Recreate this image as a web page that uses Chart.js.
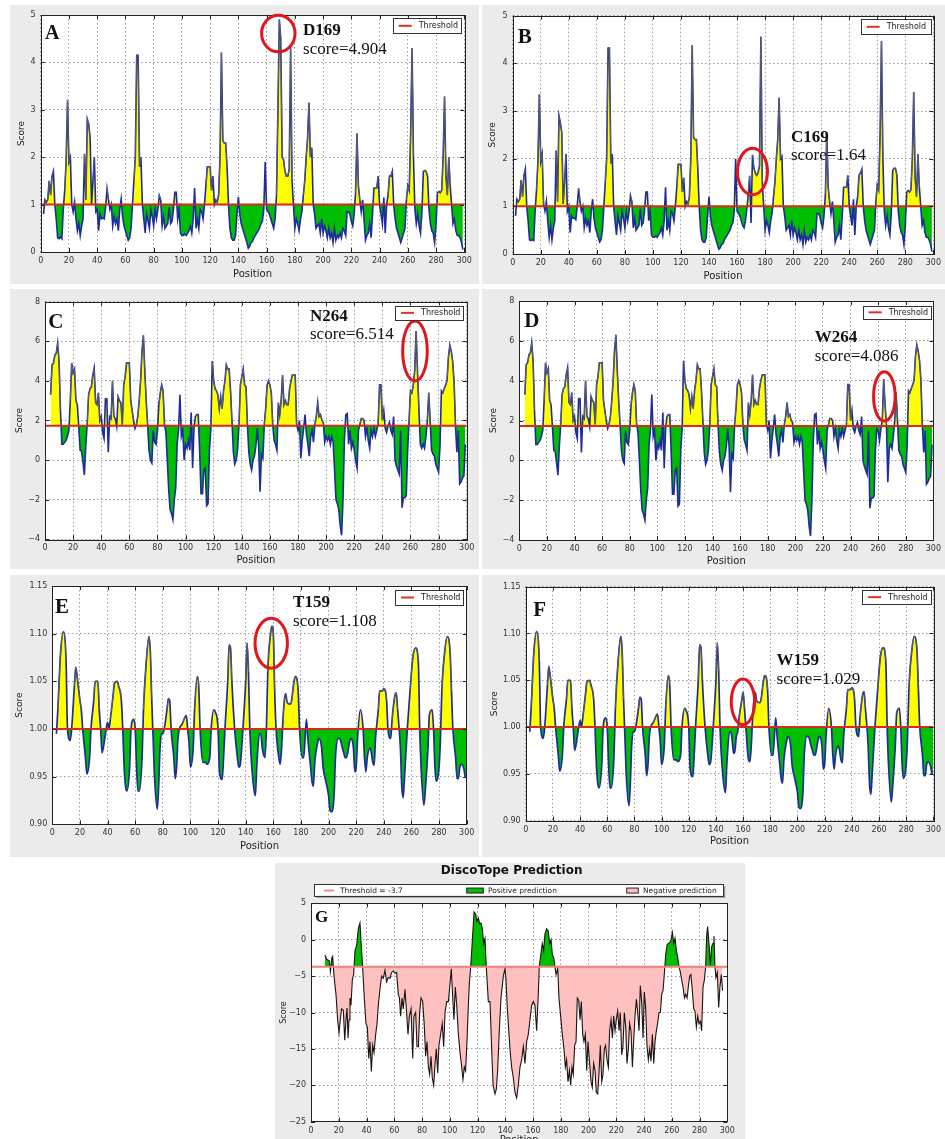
<!DOCTYPE html>
<html>
<head>
<meta charset="utf-8">
<title>Epitope score profiles</title>
<script src="https://cdn.jsdelivr.net/npm/chart.js@4.4.1/dist/chart.umd.min.js"></script>
<style>
  html, body { margin: 0; padding: 0; background: #fff; }
  body { width: 945px; height: 1139px; position: relative; overflow: hidden; font-family: "DejaVu Sans", sans-serif; }
  .panel { position: absolute; background: #ebebeb; }
  canvas { position: absolute; }
</style>
</head>
<body>
<div class="panel" style="left:10px;top:5px;width:469px;height:279px"></div>
<div class="panel" style="left:482px;top:5px;width:463px;height:279px"></div>
<div class="panel" style="left:10px;top:289px;width:469px;height:280px"></div>
<div class="panel" style="left:482px;top:289px;width:463px;height:280px"></div>
<div class="panel" style="left:10px;top:575px;width:469px;height:282px"></div>
<div class="panel" style="left:482px;top:575px;width:463px;height:282px"></div>
<div class="panel" style="left:275px;top:863px;width:470px;height:276px"></div>
<script>
// ---- axis ticks ----
const posTicks = [0, 20, 40, 60, 80, 100, 120, 140, 160, 180, 200, 220, 240, 260, 280, 300];
const scoreTicksAB = [0, 1, 2, 3, 4, 5];
const scoreTicksCD = [-4, -2, 0, 2, 4, 6, 8];
const scoreTicksEF = [0.90, 0.95, 1.00, 1.05, 1.10, 1.15];
const scoreTicksG = [-25, -20, -15, -10, -5, 0, 5];

// ---- thresholds ----
const thresholdAB = 1.0;
const thresholdCD = 1.73;
const thresholdEF = 1.0;
const thresholdG = -3.7;

// ---- per-residue scores: [position, score] ----
const seriesA = [[2,0.80],[3,1.10],[4,1.05],[5,1.10],[6,1.50],[7,1.20],[8,1.60],[9,1.70],[10,1.00],[11,0.70],[12,0.30],[13,0.28],[14,0.32],[15,0.28],[16,0.90],[17,1.30],[18,1.90],[19,3.20],[20,1.90],[21,2.00],[22,1.00],[23,0.85],[24,1.05],[25,0.70],[26,0.45],[27,0.60],[28,0.35],[29,0.55],[30,0.70],[31,2.07],[32,1.10],[33,2.80],[34,2.70],[35,2.40],[36,1.00],[37,1.50],[38,2.00],[39,0.85],[40,0.90],[41,0.45],[42,0.80],[43,0.70],[44,0.72],[45,0.70],[46,0.95],[47,1.33],[48,1.10],[49,0.90],[50,1.00],[51,0.55],[52,0.75],[53,0.60],[54,0.70],[55,0.45],[56,0.90],[57,1.12],[58,0.75],[59,0.55],[60,0.45],[61,0.35],[62,0.25],[63,0.30],[64,0.50],[65,1.00],[66,1.50],[67,2.00],[68,4.15],[69,4.15],[70,1.80],[71,2.00],[72,1.00],[73,0.70],[74,0.40],[75,0.80],[76,0.65],[77,0.50],[78,0.90],[79,0.75],[80,0.55],[81,0.90],[82,0.70],[83,0.90],[84,1.19],[85,1.10],[86,0.55],[87,0.75],[88,0.50],[89,0.55],[90,0.60],[91,0.95],[92,0.60],[93,0.65],[94,0.90],[95,1.26],[96,1.26],[97,0.70],[98,0.90],[99,0.40],[100,0.35],[101,0.35],[102,0.38],[103,0.35],[104,0.40],[105,0.45],[106,0.55],[107,0.40],[108,0.70],[109,1.35],[110,0.50],[111,0.70],[112,0.50],[113,0.90],[114,0.85],[115,0.70],[116,1.00],[117,1.40],[118,1.80],[119,1.80],[120,1.80],[121,1.30],[122,1.60],[123,1.00],[124,1.10],[125,1.05],[126,1.20],[127,2.00],[128,4.21],[129,2.35],[130,2.30],[131,2.30],[132,1.80],[133,1.00],[134,0.50],[135,0.30],[136,0.25],[137,0.25],[138,0.35],[139,0.80],[140,1.16],[141,0.80],[142,0.60],[143,0.50],[144,0.40],[145,0.30],[146,0.20],[147,0.08],[148,0.12],[149,0.20],[150,0.22],[151,0.30],[152,0.35],[153,0.40],[154,0.45],[155,0.50],[156,0.60],[157,0.65],[158,0.90],[159,1.90],[160,0.90],[161,0.85],[162,0.80],[163,0.70],[164,0.60],[165,0.50],[166,0.70],[167,1.20],[168,3.00],[169,4.904],[170,4.50],[171,2.00],[172,1.95],[173,1.70],[174,1.60],[175,1.60],[176,1.75],[177,4.30],[178,1.50],[179,1.00],[180,0.50],[181,0.70],[182,0.60],[183,0.45],[184,0.70],[185,0.85],[186,1.20],[187,1.50],[188,2.00],[189,2.40],[190,3.15],[191,2.00],[192,2.20],[193,1.00],[194,0.80],[195,0.50],[196,0.55],[197,0.60],[198,0.40],[199,0.70],[200,0.40],[201,0.55],[202,0.45],[203,0.30],[204,0.50],[205,0.30],[206,0.40],[207,0.20],[208,0.50],[209,0.25],[210,0.35],[211,0.30],[212,0.40],[213,0.30],[214,0.50],[215,0.45],[216,0.35],[217,0.85],[218,0.85],[219,0.80],[220,0.65],[221,0.55],[222,0.80],[223,1.25],[224,2.50],[225,1.40],[226,1.10],[227,0.85],[228,1.10],[229,0.70],[230,0.25],[231,0.35],[232,0.40],[233,0.60],[234,0.30],[235,0.80],[236,1.35],[237,1.35],[238,1.35],[239,1.60],[240,1.00],[241,0.80],[242,0.60],[243,1.15],[244,0.40],[245,1.00],[246,1.20],[247,1.60],[248,1.60],[249,1.70],[250,1.00],[251,0.70],[252,0.50],[253,0.40],[254,0.30],[255,0.20],[256,0.30],[257,0.40],[258,0.50],[259,1.10],[260,1.40],[261,1.30],[262,2.50],[263,4.30],[264,2.00],[265,0.90],[266,0.60],[267,0.80],[268,0.55],[269,0.40],[270,0.85],[271,1.70],[272,1.72],[273,1.70],[274,1.60],[275,0.90],[276,0.60],[277,0.45],[278,0.40],[279,0.20],[280,0.60],[281,1.25],[282,1.28],[283,1.25],[284,1.30],[285,2.00],[286,3.28],[287,1.60],[288,1.20],[289,2.00],[290,1.40],[291,1.00],[292,0.60],[293,0.70],[294,0.45],[295,0.35],[296,0.35],[297,0.30],[298,0.20],[299,0.05]];

const seriesB = [[2,0.80],[3,1.15],[4,1.10],[5,1.15],[6,1.55],[7,1.20],[8,1.65],[9,1.78],[10,1.00],[11,0.70],[12,0.30],[13,0.28],[14,0.30],[15,0.28],[16,0.90],[17,1.35],[18,1.95],[19,3.35],[20,1.95],[21,2.10],[22,1.05],[23,0.90],[24,1.10],[25,0.70],[26,0.35],[27,0.60],[28,0.30],[29,0.55],[30,0.70],[31,2.17],[32,1.10],[33,2.90],[34,2.75],[35,2.55],[36,1.05],[37,1.50],[38,2.10],[39,0.90],[40,1.00],[41,0.45],[42,0.80],[43,0.75],[44,0.75],[45,0.72],[46,1.00],[47,1.38],[48,1.10],[49,0.90],[50,1.00],[51,0.55],[52,0.75],[53,0.60],[54,0.70],[55,0.45],[56,0.90],[57,1.15],[58,0.75],[59,0.55],[60,0.45],[61,0.35],[62,0.25],[63,0.30],[64,0.50],[65,1.00],[66,1.50],[67,2.00],[68,4.32],[69,4.32],[70,1.90],[71,2.10],[72,1.00],[73,0.70],[74,0.40],[75,0.80],[76,0.65],[77,0.50],[78,0.90],[79,0.75],[80,0.55],[81,0.90],[82,0.70],[83,0.90],[84,1.22],[85,1.10],[86,0.55],[87,0.75],[88,0.50],[89,0.55],[90,0.60],[91,0.95],[92,0.60],[93,0.65],[94,0.90],[95,1.30],[96,1.30],[97,0.70],[98,0.90],[99,0.40],[100,0.35],[101,0.35],[102,0.38],[103,0.35],[104,0.40],[105,0.45],[106,0.55],[107,0.40],[108,0.70],[109,1.40],[110,0.50],[111,0.70],[112,0.50],[113,0.90],[114,0.85],[115,0.70],[116,1.00],[117,1.40],[118,1.88],[119,1.88],[120,1.88],[121,1.30],[122,1.60],[123,1.00],[124,1.10],[125,1.05],[126,1.20],[127,2.00],[128,4.38],[129,2.45],[130,2.40],[131,2.40],[132,1.80],[133,1.00],[134,0.50],[135,0.30],[136,0.25],[137,0.25],[138,0.35],[139,0.80],[140,1.20],[141,0.80],[142,0.60],[143,0.50],[144,0.40],[145,0.30],[146,0.20],[147,0.10],[148,0.13],[149,0.20],[150,0.22],[151,0.30],[152,0.35],[153,0.40],[154,0.45],[155,0.50],[156,0.60],[157,0.65],[158,0.90],[159,2.00],[160,0.90],[161,0.85],[162,0.80],[163,0.70],[164,0.60],[165,0.55],[166,0.70],[167,0.95],[168,1.25],[169,1.64],[170,0.65],[171,2.08],[172,1.80],[173,1.70],[174,1.65],[175,1.70],[176,1.85],[177,4.56],[178,1.50],[179,1.00],[180,0.50],[181,0.70],[182,0.60],[183,0.45],[184,0.70],[185,0.85],[186,1.20],[187,1.50],[188,2.00],[189,2.40],[190,3.28],[191,2.00],[192,2.05],[193,1.00],[194,0.80],[195,0.50],[196,0.55],[197,0.60],[198,0.40],[199,0.70],[200,0.40],[201,0.55],[202,0.45],[203,0.30],[204,0.50],[205,0.30],[206,0.40],[207,0.20],[208,0.50],[209,0.25],[210,0.35],[211,0.30],[212,0.40],[213,0.30],[214,0.50],[215,0.45],[216,0.35],[217,0.85],[218,0.85],[219,0.80],[220,0.65],[221,0.55],[222,0.80],[223,1.25],[224,2.55],[225,1.40],[226,1.10],[227,0.85],[228,1.10],[229,0.70],[230,0.25],[231,0.35],[232,0.40],[233,0.60],[234,0.30],[235,0.80],[236,1.40],[237,1.40],[238,1.40],[239,1.65],[240,1.00],[241,0.80],[242,0.60],[243,1.15],[244,0.40],[245,1.00],[246,1.20],[247,1.65],[248,1.70],[249,1.78],[250,1.00],[251,0.70],[252,0.50],[253,0.40],[254,0.30],[255,0.20],[256,0.30],[257,0.40],[258,0.50],[259,1.10],[260,1.45],[261,1.35],[262,2.50],[263,4.47],[264,2.00],[265,0.90],[266,0.60],[267,0.80],[268,0.55],[269,0.40],[270,0.85],[271,1.75],[272,1.80],[273,1.80],[274,1.65],[275,0.90],[276,0.60],[277,0.45],[278,0.40],[279,0.20],[280,0.60],[281,1.30],[282,1.33],[283,1.30],[284,1.35],[285,2.00],[286,3.40],[287,1.60],[288,1.20],[289,2.10],[290,1.40],[291,1.00],[292,0.60],[293,0.70],[294,0.45],[295,0.35],[296,0.35],[297,0.30],[298,0.20],[299,0.05]];

const seriesC = [[4,3.3],[5,4.8],[6,4.9],[7,5.3],[8,5.4],[9,5.9],[10,5.0],[11,2.5],[12,0.8],[13,0.8],[14,0.9],[15,1.0],[16,1.2],[17,1.5],[18,3.0],[19,4.9],[20,4.4],[21,4.6],[22,3.0],[23,2.8],[24,1.7],[25,0.5],[26,0.45],[27,-0.1],[28,-0.75],[29,0.7],[30,1.8],[31,3.3],[32,3.6],[33,3.7],[34,4.3],[35,4.65],[36,2.9],[37,2.8],[38,3.4],[39,2.0],[40,2.2],[41,1.4],[42,1.1],[43,3.1],[44,3.1],[45,0.4],[46,2.2],[47,2.1],[48,4.0],[49,2.2],[50,2.1],[51,1.7],[52,3.2],[53,3.0],[54,2.9],[55,1.8],[56,3.8],[57,4.2],[58,4.9],[59,4.9],[60,4.9],[61,3.0],[62,2.5],[63,2.0],[64,1.6],[65,1.8],[66,2.2],[67,3.0],[68,4.0],[69,5.5],[70,6.3],[71,4.5],[72,3.0],[73,1.8],[74,0.5],[75,0.0],[76,-0.15],[77,1.5],[78,0.9],[79,0.8],[80,1.5],[81,2.8],[82,3.4],[83,3.8],[84,3.5],[85,1.8],[86,1.4],[87,0.0],[88,-1.5],[89,-2.5],[90,-2.7],[91,-3.0],[92,-2.0],[93,-1.4],[94,0.8],[95,1.5],[96,3.3],[97,1.2],[98,1.5],[99,0.0],[100,0.8],[101,0.6],[102,1.0],[103,0.5],[104,2.4],[105,-0.4],[106,1.6],[107,2.2],[108,2.3],[109,2.3],[110,0.5],[111,-1.7],[112,-1.7],[113,-0.5],[114,-0.4],[115,-2.3],[116,-2.2],[117,0.5],[118,1.6],[119,5.0],[120,4.0],[121,3.6],[122,3.5],[123,3.3],[124,2.6],[125,3.2],[126,2.6],[127,3.5],[128,4.0],[129,4.8],[130,4.6],[131,4.6],[132,3.5],[133,2.0],[134,0.4],[135,-0.2],[136,0.0],[137,0.5],[138,1.8],[139,3.8],[140,4.2],[141,4.6],[142,3.8],[143,3.7],[144,1.8],[145,0.4],[146,-0.2],[147,-0.5],[148,0.0],[149,0.2],[150,0.7],[151,1.6],[152,0.7],[153,-1.6],[154,0.3],[155,0.1],[156,1.8],[157,2.6],[158,3.8],[159,4.0],[160,3.8],[161,3.4],[162,1.8],[163,1.0],[164,0.8],[165,0.5],[166,2.9],[167,2.3],[168,3.0],[169,4.3],[170,2.8],[171,3.0],[172,2.8],[173,2.8],[174,3.6],[175,4.0],[176,4.3],[177,4.3],[178,4.3],[179,1.8],[180,1.5],[181,2.0],[182,0.1],[183,1.0],[184,1.6],[185,2.3],[186,1.3],[187,0.8],[188,0.2],[189,1.2],[190,1.5],[191,0.9],[192,1.8],[193,2.2],[194,2.9],[195,2.2],[196,2.3],[197,2.0],[198,1.9],[199,0.9],[200,1.2],[201,1.0],[202,1.2],[203,0.8],[204,1.2],[205,0.9],[206,-0.5],[207,-2.0],[208,-2.2],[209,-2.5],[210,-3.3],[211,-3.8],[212,-2.0],[213,1.0],[214,2.3],[215,2.35],[216,0.8],[217,1.5],[218,0.6],[219,0.9],[220,0.5],[221,0.0],[222,-0.4],[223,1.5],[224,1.8],[225,2.1],[226,2.1],[227,2.0],[228,1.2],[229,1.6],[230,1.0],[231,0.6],[232,1.5],[233,1.2],[234,1.6],[235,1.2],[236,1.5],[237,1.8],[238,3.8],[239,3.8],[240,2.0],[241,2.5],[242,1.6],[243,1.4],[244,1.7],[245,1.9],[246,1.5],[247,1.3],[248,2.2],[249,0.0],[250,-0.3],[251,-0.5],[252,-0.7],[253,1.5],[254,-2.4],[255,-1.9],[256,-1.9],[257,-1.8],[258,0.5],[259,2.0],[260,3.5],[261,3.4],[262,3.8],[263,4.5],[264,6.514],[265,4.5],[266,2.6],[267,0.8],[268,0.6],[269,0.8],[270,0.6],[271,1.2],[272,2.0],[273,3.4],[274,2.0],[275,0.5],[276,0.3],[277,0.2],[278,-0.2],[279,-0.4],[280,-0.6],[281,0.7],[282,3.5],[283,3.4],[284,3.6],[285,3.8],[286,4.0],[287,5.2],[288,5.8],[289,5.5],[290,5.0],[291,4.0],[292,1.8],[293,0.4],[294,1.5],[295,-1.2],[296,-1.1],[297,-0.9],[298,-0.8],[299,0.8]];

const seriesD = [[4,3.3],[5,4.8],[6,4.9],[7,5.3],[8,5.4],[9,5.9],[10,5.0],[11,2.5],[12,0.8],[13,0.8],[14,0.9],[15,1.0],[16,1.2],[17,1.5],[18,3.0],[19,4.9],[20,4.4],[21,4.6],[22,3.0],[23,2.8],[24,1.7],[25,0.5],[26,0.45],[27,-0.1],[28,-0.75],[29,0.7],[30,1.8],[31,3.3],[32,3.6],[33,3.7],[34,4.3],[35,4.65],[36,2.9],[37,2.8],[38,3.4],[39,2.0],[40,2.2],[41,1.4],[42,1.1],[43,3.1],[44,3.1],[45,0.4],[46,2.2],[47,2.1],[48,4.0],[49,2.2],[50,2.1],[51,1.7],[52,3.2],[53,3.0],[54,2.9],[55,1.8],[56,3.8],[57,4.2],[58,4.9],[59,4.9],[60,4.9],[61,3.0],[62,2.5],[63,2.0],[64,1.6],[65,1.8],[66,2.2],[67,3.0],[68,4.0],[69,5.5],[70,6.3],[71,4.5],[72,3.0],[73,1.8],[74,0.5],[75,0.0],[76,-0.15],[77,1.5],[78,0.9],[79,0.8],[80,1.5],[81,2.8],[82,3.4],[83,3.8],[84,3.5],[85,1.8],[86,1.4],[87,0.0],[88,-1.5],[89,-2.5],[90,-2.7],[91,-3.0],[92,-2.0],[93,-1.4],[94,0.8],[95,1.5],[96,3.3],[97,1.2],[98,1.5],[99,0.0],[100,0.8],[101,0.6],[102,1.0],[103,0.5],[104,2.4],[105,-0.4],[106,1.6],[107,2.2],[108,2.3],[109,2.3],[110,0.5],[111,-1.7],[112,-1.7],[113,-0.5],[114,-0.4],[115,-2.3],[116,-2.2],[117,0.5],[118,1.6],[119,5.0],[120,4.0],[121,3.6],[122,3.5],[123,3.3],[124,2.6],[125,3.2],[126,2.6],[127,3.5],[128,4.0],[129,4.8],[130,4.6],[131,4.6],[132,3.5],[133,2.0],[134,0.4],[135,-0.2],[136,0.0],[137,0.5],[138,1.8],[139,3.8],[140,4.2],[141,4.6],[142,3.8],[143,3.7],[144,1.8],[145,0.4],[146,-0.2],[147,-0.5],[148,0.0],[149,0.2],[150,0.7],[151,1.6],[152,0.7],[153,-1.6],[154,0.3],[155,0.1],[156,1.8],[157,2.6],[158,3.8],[159,4.0],[160,3.8],[161,3.4],[162,1.8],[163,1.0],[164,0.8],[165,0.5],[166,2.9],[167,2.3],[168,3.0],[169,4.3],[170,2.8],[171,3.0],[172,2.8],[173,2.8],[174,3.6],[175,4.0],[176,4.3],[177,4.3],[178,4.3],[179,1.8],[180,1.5],[181,2.0],[182,0.1],[183,1.0],[184,1.6],[185,2.3],[186,1.3],[187,0.8],[188,0.2],[189,1.2],[190,1.5],[191,0.9],[192,1.8],[193,2.2],[194,2.9],[195,2.2],[196,2.3],[197,2.0],[198,1.9],[199,0.9],[200,1.2],[201,1.0],[202,1.2],[203,0.8],[204,1.2],[205,0.9],[206,-0.5],[207,-2.0],[208,-2.2],[209,-2.5],[210,-3.3],[211,-3.8],[212,-2.0],[213,1.0],[214,2.3],[215,2.35],[216,0.8],[217,1.5],[218,0.6],[219,0.9],[220,0.5],[221,0.0],[222,-0.4],[223,1.5],[224,1.8],[225,2.1],[226,2.1],[227,2.0],[228,1.2],[229,1.6],[230,1.0],[231,0.6],[232,1.5],[233,1.2],[234,1.6],[235,1.2],[236,1.5],[237,1.8],[238,3.8],[239,3.8],[240,2.0],[241,2.5],[242,1.6],[243,1.4],[244,1.7],[245,1.9],[246,1.5],[247,1.3],[248,2.2],[249,0.0],[250,-0.3],[251,-0.5],[252,-0.7],[253,1.5],[254,-2.4],[255,-1.9],[256,-1.9],[257,-1.8],[258,0.5],[259,1.6],[260,1.5],[261,1.0],[262,1.6],[263,2.0],[264,4.086],[265,2.8],[266,1.8],[267,-1.1],[268,0.6],[269,0.8],[270,0.6],[271,1.2],[272,2.0],[273,3.4],[274,2.0],[275,0.5],[276,0.3],[277,0.2],[278,-0.2],[279,-0.4],[280,-0.6],[281,0.7],[282,3.5],[283,3.4],[284,3.6],[285,3.8],[286,4.0],[287,5.2],[288,5.8],[289,5.5],[290,5.0],[291,4.0],[292,1.8],[293,0.4],[294,1.5],[295,-1.2],[296,-1.1],[297,-0.9],[298,-0.8],[299,0.8]];

const seriesE = [[3,0.995],[4,1.02],[6,1.08],[8,1.102],[10,1.07],[11,1.0],[13,0.988],[14,1.0],[16,1.045],[17,1.065],[18,1.055],[20,1.03],[21,1.02],[22,1.0],[24,0.97],[25,0.953],[27,0.97],[28,1.0],[30,1.03],[31,1.05],[33,1.05],[34,1.02],[35,1.0],[36,0.975],[38,0.99],[39,1.0],[40,1.007],[41,1.0],[42,1.01],[44,1.035],[45,1.048],[47,1.05],[48,1.045],[50,1.03],[51,1.0],[52,0.96],[53,0.94],[54,0.935],[56,0.96],[57,1.0],[59,1.01],[60,1.0],[61,0.96],[62,0.935],[63,0.935],[65,0.97],[66,1.02],[68,1.07],[70,1.097],[71,1.08],[72,1.03],[73,0.99],[74,0.95],[76,0.916],[77,0.94],[78,0.98],[79,0.995],[80,0.995],[81,1.0],[83,1.02],[84,1.032],[85,1.03],[86,1.0],[88,0.97],[89,0.948],[90,0.96],[91,0.99],[92,1.0],[94,1.005],[97,1.014],[98,1.0],[99,0.985],[100,0.96],[102,0.98],[103,1.02],[105,1.055],[106,1.045],[107,1.0],[109,0.965],[111,0.965],[112,0.963],[114,0.97],[115,1.0],[117,1.02],[118,1.018],[120,1.0],[121,0.955],[123,0.947],[124,0.97],[125,1.0],[127,1.05],[128,1.088],[129,1.085],[130,1.05],[132,1.0],[134,0.97],[135,0.96],[136,0.962],[138,1.0],[140,1.05],[141,1.09],[142,1.06],[143,1.0],[145,0.95],[147,0.93],[148,0.96],[150,0.995],[151,0.995],[152,0.98],[154,0.97],[155,1.0],[156,1.06],[158,1.1],[159,1.108],[160,1.1],[161,1.04],[162,1.0],[164,0.97],[165,0.963],[166,0.98],[167,1.01],[168,1.03],[169,1.037],[170,1.028],[172,1.026],[173,1.028],[175,1.05],[176,1.055],[178,1.04],[179,1.0],[181,0.97],[182,0.97],[183,0.99],[184,1.01],[185,0.99],[187,0.96],[188,0.945],[189,0.94],[190,0.965],[192,0.985],[193,0.99],[195,0.98],[196,0.96],[198,0.945],[200,0.93],[201,0.915],[202,0.913],[204,0.93],[205,0.97],[207,0.99],[208,0.99],[210,0.98],[211,0.975],[212,0.97],[213,0.97],[215,0.985],[216,0.99],[218,0.98],[219,0.955],[220,0.96],[221,0.99],[223,1.02],[225,1.0],[226,0.97],[227,0.955],[228,0.97],[230,0.98],[231,0.975],[232,0.965],[233,0.962],[234,0.99],[236,1.02],[237,1.04],[239,1.04],[240,1.042],[242,1.03],[243,1.0],[245,0.99],[246,1.01],[248,1.035],[249,1.038],[250,1.02],[252,0.98],[253,0.94],[254,0.928],[255,0.95],[257,1.0],[259,1.04],[261,1.075],[263,1.085],[265,1.07],[266,1.0],[267,0.96],[269,0.92],[270,0.935],[272,0.98],[273,1.015],[275,1.02],[276,1.0],[277,0.96],[278,0.945],[280,0.96],[281,0.99],[282,1.04],[284,1.08],[286,1.097],[288,1.08],[289,1.04],[290,1.0],[292,0.97],[293,0.948],[294,0.948],[295,0.96],[296,0.963],[298,0.958],[299,0.95],[300,0.95]];

const seriesF = [[3,0.995],[4,1.02],[6,1.08],[8,1.102],[10,1.07],[11,1.0],[13,0.988],[14,1.0],[16,1.045],[17,1.065],[18,1.055],[20,1.03],[21,1.02],[22,1.0],[24,0.97],[25,0.953],[27,0.97],[28,1.0],[30,1.03],[31,1.05],[33,1.05],[34,1.02],[35,1.0],[36,0.975],[38,0.99],[39,1.0],[40,1.007],[41,1.0],[42,1.01],[44,1.035],[45,1.048],[47,1.05],[48,1.045],[50,1.03],[51,1.0],[52,0.96],[53,0.94],[54,0.935],[56,0.96],[57,1.0],[59,1.01],[60,1.0],[61,0.96],[62,0.935],[63,0.935],[65,0.97],[66,1.02],[68,1.07],[70,1.097],[71,1.08],[72,1.03],[73,0.99],[74,0.95],[76,0.916],[77,0.94],[78,0.98],[79,0.995],[80,0.995],[81,1.0],[83,1.02],[84,1.032],[85,1.03],[86,1.0],[88,0.97],[89,0.948],[90,0.96],[91,0.99],[92,1.0],[94,1.005],[97,1.014],[98,1.0],[99,0.985],[100,0.96],[102,0.98],[103,1.02],[105,1.055],[106,1.045],[107,1.0],[109,0.965],[111,0.965],[112,0.963],[114,0.97],[115,1.0],[117,1.02],[118,1.018],[120,1.0],[121,0.955],[123,0.947],[124,0.97],[125,1.0],[127,1.05],[128,1.088],[129,1.085],[130,1.05],[132,1.0],[134,0.97],[135,0.96],[136,0.962],[138,1.0],[140,1.05],[141,1.09],[142,1.06],[143,1.0],[145,0.95],[147,0.93],[148,0.96],[150,0.995],[151,0.995],[152,0.985],[153,0.972],[154,0.975],[155,0.99],[156,0.995],[157,1.01],[158,1.02],[159,1.029],[160,1.037],[161,1.02],[162,1.0],[164,0.965],[165,0.963],[166,0.98],[167,1.01],[168,1.03],[169,1.037],[170,1.028],[172,1.026],[173,1.028],[175,1.05],[176,1.055],[178,1.04],[179,1.0],[181,0.97],[182,0.97],[183,0.99],[184,1.01],[185,0.99],[187,0.96],[188,0.945],[189,0.94],[190,0.965],[192,0.985],[193,0.99],[195,0.98],[196,0.96],[198,0.945],[200,0.93],[201,0.915],[202,0.913],[204,0.93],[205,0.97],[207,0.99],[208,0.99],[210,0.98],[211,0.975],[212,0.97],[213,0.97],[215,0.985],[216,0.99],[218,0.98],[219,0.955],[220,0.96],[221,0.99],[223,1.02],[225,1.0],[226,0.97],[227,0.955],[228,0.97],[230,0.98],[231,0.975],[232,0.965],[233,0.962],[234,0.99],[236,1.02],[237,1.04],[239,1.04],[240,1.042],[242,1.03],[243,1.0],[245,0.99],[246,1.01],[248,1.035],[249,1.038],[250,1.02],[252,0.98],[253,0.94],[254,0.928],[255,0.95],[257,1.0],[259,1.04],[261,1.075],[263,1.085],[265,1.07],[266,1.0],[267,0.96],[269,0.92],[270,0.935],[272,0.98],[273,1.015],[275,1.02],[276,1.0],[277,0.96],[278,0.945],[280,0.96],[281,0.99],[282,1.04],[284,1.08],[286,1.097],[288,1.08],[289,1.04],[290,1.0],[292,0.97],[293,0.948],[294,0.948],[295,0.96],[296,0.963],[298,0.958],[299,0.95],[300,0.95]];

const seriesG = [[10,-2.1],[11.3,-2.7],[13.2,-2.9],[14,-4.4],[15,-2.5],[15.6,-2.3],[16.6,-5.0],[18,-7.5],[19.2,-11],[20.2,-12.8],[21.1,-11],[22,-9.5],[23.3,-9.7],[24.3,-13.8],[25.2,-11],[26,-9.4],[26.7,-13.5],[27.4,-11],[28.1,-8],[28.8,-9],[29.8,-5.5],[30.7,-4.8],[31.7,-1.5],[32.9,-0.8],[34.1,1.5],[35.3,2.3],[36,0.0],[37.2,-3.7],[38.4,-8.0],[39.6,-11.5],[40.6,-12],[41.6,-16.3],[42.5,-14],[43.5,-18.1],[44.4,-14.5],[45.4,-15.5],[46.6,-13],[47.6,-11.5],[48.5,-9],[49.7,-6.8],[50.9,-5.0],[52.1,-5.3],[53.3,-4.2],[54.5,-5.8],[55.7,-5.2],[56.9,-5.3],[58.1,-4.5],[59.3,-4.3],[60.5,-4.6],[61.7,-4.5],[62.9,-7.5],[63.7,-8],[64.6,-10.5],[65.6,-8],[66.5,-9.5],[67.7,-6.8],[68.9,-10],[69.9,-13],[70.9,-10.5],[72.1,-9.5],[73.3,-16.3],[74.2,-10.5],[75.4,-10],[76.4,-14.7],[77.4,-14.7],[78.3,-10],[79.3,-8],[80.5,-8.5],[81.7,-12],[82.6,-16],[83.6,-14],[84.6,-17.5],[85.5,-18.5],[86.5,-16],[87.4,-19],[88.4,-20],[89.4,-17],[90.3,-15],[91.3,-18.3],[92.2,-14.5],[93.4,-13],[94.6,-11.5],[95.6,-14.7],[96.6,-10],[97.8,-8.5],[99,-8.5],[100.2,-6],[101.1,-4.0],[102.1,-7.8],[103,-11],[104,-6.5],[105,-9],[106.2,-13],[107.4,-15.5],[108.6,-17.5],[109.5,-19.2],[110.5,-17.5],[111.4,-18],[112.4,-14],[113.4,-9],[114.1,-6],[115.1,-3.7],[116.3,0],[117.5,3.8],[118.7,3.5],[119.6,2.5],[120.6,3.0],[121.5,2.2],[122.5,2.3],[123.5,1.5],[124.4,-0.5],[125.4,0.2],[126.3,-3.7],[127.8,-8.5],[129,-8.5],[130.2,-15],[131.2,-20],[132.6,-21.2],[133.6,-20.5],[134.5,-18],[135.7,-12.5],[136.9,-8],[138.6,-5],[139.8,-4.0],[140.5,-5.5],[141.5,-9.5],[142.7,-13],[143.6,-15.5],[144.6,-17.5],[145.8,-19],[147,-21],[148.2,-21.7],[149.4,-20],[150.6,-17.5],[151.8,-16.5],[153,-14.7],[154.2,-17],[155.4,-14],[156.6,-13],[157.8,-11],[159,-9],[160.2,-8.5],[161.4,-9],[162.6,-12.5],[163.8,-7.5],[164.5,-3.7],[165.5,-2.2],[166.7,-0.5],[167.7,-1.5],[168.6,0.8],[169.8,1.5],[171,1.2],[172,-0.5],[173,0.0],[173.9,-2.0],[174.9,-2.5],[175.8,-3.7],[176.6,-4.8],[177.8,-4.0],[178.7,-8],[179.9,-10.5],[181.1,-13],[182.3,-15],[183.3,-17.5],[184.2,-16.5],[185.2,-19.5],[186.2,-18],[187.1,-20],[188.1,-17.5],[189,-18.5],[190,-14.5],[191,-14],[191.9,-8],[192.9,-8.3],[193.9,-11],[194.8,-8.5],[195.8,-13],[196.7,-14],[197.7,-13],[198.7,-18],[199.6,-14],[200.8,-17],[201.8,-19.5],[202.7,-20.3],[203.7,-17],[204.7,-18],[205.6,-21],[206.6,-21.2],[207.5,-18.5],[208.5,-14.5],[209.5,-19.5],[210.4,-18.5],[211.4,-15],[212.3,-14.5],[213.3,-16.5],[214.3,-17.5],[215.2,-12.5],[216.2,-11],[217.2,-13.5],[218.1,-10.5],[219.1,-12.5],[220,-11],[221,-9.8],[222,-12.5],[222.9,-10],[223.9,-15.8],[224.8,-14.7],[225.8,-10],[226.8,-12],[227.7,-17],[228.7,-15],[229.6,-11.5],[230.6,-12.5],[231.6,-17.5],[232.5,-14],[233.5,-10.5],[234.5,-8.2],[235.4,-10],[236.4,-12.5],[237.3,-6.3],[238.3,-8.5],[239.3,-13.5],[240.2,-7.2],[241.2,-9.5],[242.1,-14.5],[243.1,-16.5],[244.1,-15],[245,-16.7],[246,-13],[247,-17],[247.9,-14],[248.9,-12.5],[249.8,-11.5],[250.8,-10],[251.8,-10],[252.7,-7.5],[253.7,-7],[254.7,-4.5],[255.6,-2.0],[256.6,-0.7],[257.5,-0.5],[258.5,-0.4],[259.5,0.0],[260.4,1.0],[261.4,-0.5],[262.3,0.2],[263.3,-1.5],[264.3,-2.5],[265.2,-3.7],[266.2,-4.5],[267.1,-5.5],[268.1,-6.5],[269.1,-8.0],[270,-7.5],[271,-8],[271.9,-6.5],[272.9,-5.0],[273.8,-4.8],[274.8,-7],[275.8,-9.5],[276.7,-9.8],[277.7,-12],[278.7,-10.5],[279.6,-11.5],[280.6,-11.2],[281.5,-12.5],[282.5,-6.5],[283.5,-5.5],[284.4,-3.7],[285.1,0.5],[285.8,1.8],[286.8,-0.5],[287.8,-3.5],[288.7,-1.0],[289.7,-0.5],[290.4,0.5],[291.1,-3.7],[291.8,-5.2],[292.8,-4.5],[293.8,-9.3],[294.7,-6.5],[295.7,-4.8],[296.6,-7.0]];

// ---- highlighted residues ----
const markA = { name: 'D169', score: '4.904' };
const markB = { name: 'C169', score: '1.64' };
const markC = { name: 'N264', score: '6.514' };
const markD = { name: 'W264', score: '4.086' };
const markE = { name: 'T159', score: '1.108' };
const markF = { name: 'W159', score: '1.029' };

const SANS = '"DejaVu Sans", sans-serif';
const SERIF = '"Liberation Serif", "Times New Roman", serif';
const minus = s => String(s).replace('-', '\u2212');

// Frame, inward ticks, titles, panel letter, highlight and legend.
const framePlugin = {
  id: 'frame',
  beforeDraw(chart) {
    const { ctx, chartArea: a } = chart;
    ctx.save();
    ctx.fillStyle = '#ffffff';
    ctx.fillRect(a.left, a.top, a.right - a.left, a.bottom - a.top);
    ctx.restore();
  },
  afterDraw(chart, args, o) {
    const { ctx, chartArea: a } = chart;
    const xs = chart.scales.x, ys = chart.scales.y;
    ctx.save();
    ctx.strokeStyle = '#222';
    ctx.lineWidth = 1;
    ctx.strokeRect(Math.round(a.left) + 0.5, Math.round(a.top) + 0.5,
                   Math.round(a.right - a.left), Math.round(a.bottom - a.top));
    ctx.beginPath();
    for (const t of xs.ticks) {
      const px = Math.round(xs.getPixelForValue(t.value)) + 0.5;
      ctx.moveTo(px, a.bottom); ctx.lineTo(px, a.bottom - 4);
      ctx.moveTo(px, a.top); ctx.lineTo(px, a.top + 4);
    }
    for (const t of ys.ticks) {
      const py = Math.round(ys.getPixelForValue(t.value)) + 0.5;
      ctx.moveTo(a.left, py); ctx.lineTo(a.left + 4, py);
      ctx.moveTo(a.right, py); ctx.lineTo(a.right - 4, py);
    }
    ctx.stroke();

    // axis titles
    ctx.fillStyle = '#222';
    ctx.textAlign = 'center';
    ctx.textBaseline = 'middle';
    ctx.font = `${o.titleSize}px ${SANS}`;
    ctx.fillText('Position', (a.left + a.right) / 2, a.bottom + o.posDy);
    ctx.save();
    ctx.translate(a.left + o.scoreDx, (a.top + a.bottom) / 2);
    ctx.rotate(-Math.PI / 2);
    ctx.font = `${o.scoreSize}px ${SANS}`;
    ctx.fillText('Score', 0, 0);
    ctx.restore();

    // panel letter
    ctx.textAlign = 'left';
    ctx.textBaseline = 'alphabetic';
    ctx.fillStyle = '#111';
    ctx.font = `bold ${o.letterSize}px ${SERIF}`;
    ctx.fillText(o.letter, a.left + o.letterDx, a.top + o.letterDy);

    // highlighted residue
    if (o.mark) {
      const m = o.mark;
      const tx = xs.getPixelForValue(m.tx);
      ctx.font = `bold 17px ${SERIF}`;
      ctx.fillText(m.info.name, tx, ys.getPixelForValue(m.ty1));
      ctx.font = `17px ${SERIF}`;
      ctx.fillText('score=' + m.info.score, tx, ys.getPixelForValue(m.ty2));
      ctx.strokeStyle = '#e3151c';
      ctx.lineWidth = 3;
      ctx.beginPath();
      ctx.ellipse(xs.getPixelForValue(m.ex), ys.getPixelForValue(m.ey), m.rx, m.ry, 0, 0, Math.PI * 2);
      ctx.stroke();
    }

    // threshold legend inside the plot
    if (o.legend) {
      const L = o.legend;
      const x = a.right - L.r - L.w, y = a.top + L.t;
      ctx.fillStyle = '#fff';
      ctx.fillRect(x, y, L.w, L.h);
      ctx.strokeStyle = '#333';
      ctx.lineWidth = 1;
      ctx.strokeRect(Math.round(x) + 0.5, Math.round(y) + 0.5, Math.round(L.w), Math.round(L.h));
      ctx.strokeStyle = '#d8352a';
      ctx.lineWidth = 2;
      ctx.beginPath();
      ctx.moveTo(x + 6, y + L.h / 2); ctx.lineTo(x + 19, y + L.h / 2);
      ctx.stroke();
      ctx.fillStyle = '#222';
      ctx.font = `8px ${SANS}`;
      ctx.textBaseline = 'middle';
      ctx.fillText('Threshold', x + 26, y + L.h / 2 + 0.5);
    }

    // DiscoTope title and legend above the plot
    if (o.disco) {
      ctx.textAlign = 'center';
      ctx.textBaseline = 'alphabetic';
      ctx.fillStyle = '#111';
      ctx.font = `bold 12px ${SANS}`;
      ctx.fillText('DiscoTope Prediction', (a.left + a.right) / 2 - 7.5, a.top - 29.3);
      const x = a.left + 3.3, y = a.top - 19, w = 409, h = 11.5;
      ctx.fillStyle = '#9a9a9a';
      ctx.fillRect(x + 2, y + 2, w, h);
      ctx.fillStyle = '#fff';
      ctx.fillRect(x, y, w, h);
      ctx.strokeStyle = '#333';
      ctx.lineWidth = 1;
      ctx.strokeRect(Math.round(x) + 0.5, Math.round(y) + 0.5, w, Math.round(h));
      const cy = y + h / 2 + 0.5;
      ctx.strokeStyle = '#f08a8a';
      ctx.lineWidth = 2;
      ctx.beginPath(); ctx.moveTo(x + 9.7, cy); ctx.lineTo(x + 19.7, cy); ctx.stroke();
      ctx.lineWidth = 1;
      ctx.fillStyle = '#00bf00';
      ctx.fillRect(x + 152.4, cy - 2.5, 16.6, 5);
      ctx.strokeStyle = '#222';
      ctx.strokeRect(x + 152.4, cy - 2.5, 16.6, 5);
      ctx.fillStyle = '#ffc0c0';
      ctx.fillRect(x + 312.4, cy - 2.5, 11.6, 5);
      ctx.strokeRect(x + 312.4, cy - 2.5, 11.6, 5);
      ctx.fillStyle = '#222';
      ctx.textAlign = 'left';
      ctx.textBaseline = 'middle';
      ctx.font = `7.5px ${SANS}`;
      ctx.fillText('Threshold = ' + thresholdG, x + 25.7, cy);
      ctx.fillText('Positive prediction', x + 173.7, cy);
      ctx.fillText('Negative prediction', x + 328.7, cy);
    }
    ctx.restore();
  }
};

function panel(p) {
  const [bx0, by0, bx1, by1] = p.box;
  const [px0, py0, px1, py1] = p.plot;
  const cv = document.createElement('canvas');
  const w = bx1 - bx0, h = by1 - by0;
  cv.width = w; cv.height = h;
  cv.style.left = bx0 + 'px'; cv.style.top = by0 + 'px';
  cv.style.width = w + 'px'; cv.style.height = h + 'px';
  document.body.appendChild(cv);
  const yW = px0 - bx0, xH = by1 - py1;
  const tickFont = { family: SANS, size: 8 };
  const s = p.style;
  const thr = p.threshold;
  const points = p.series.map(([x, y]) => ({ x, y }));
  const datasets = [
    {
      data: [{ x: 0, y: thr }, { x: 300, y: thr }],
      borderColor: s.thr, borderWidth: 2, pointRadius: 0, fill: false, order: 0
    },
    {
      data: points,
      borderColor: s.line, borderWidth: s.lineWidth, pointRadius: 0,
      fill: { target: { value: thr }, above: s.above, below: s.below },
      tension: 0,
      cubicInterpolationMode: p.smooth ? 'monotone' : 'default',
      order: 2
    }
  ];
  if (s.edge) {
    // greyish edge of the area above the threshold
    datasets.push({
      data: points,
      borderWidth: 1, pointRadius: 0, fill: false,
      tension: 0,
      cubicInterpolationMode: p.smooth ? 'monotone' : 'default',
      segment: { borderColor: c => (c.p0.parsed.y > thr && c.p1.parsed.y > thr) ? s.edge : 'rgba(0,0,0,0)' },
      order: 1
    });
  }
  return new Chart(cv, {
    type: 'line',
    data: { datasets },
    options: {
      responsive: false,
      animation: false,
      devicePixelRatio: 1,
      layout: { padding: { top: py0 - by0, right: bx1 - px1, left: 0, bottom: 0 }, autoPadding: false },
      plugins: { legend: { display: false }, tooltip: { enabled: false }, frame: p.frame },
      scales: {
        x: {
          type: 'linear', min: 0, max: 300,
          afterBuildTicks: sc => { sc.ticks = posTicks.map(v => ({ value: v })); },
          afterFit: sc => { sc.height = xH; },
          ticks: { font: tickFont, color: '#333', padding: 4, maxRotation: 0, autoSkip: false, callback: v => String(v) },
          grid: { color: '#9a9a9a', drawTicks: false, lineWidth: 1 },
          border: { display: false, dash: [1.5, 2.5] }
        },
        y: {
          type: 'linear', min: p.yTicks[0], max: p.yTicks[p.yTicks.length - 1],
          afterBuildTicks: sc => { sc.ticks = p.yTicks.map(v => ({ value: v })); },
          afterFit: sc => { sc.width = yW; },
          ticks: { font: tickFont, color: '#333', padding: 5, callback: v => minus(p.fmt(v)) },
          grid: { color: '#9a9a9a', drawTicks: false, lineWidth: 1 },
          border: { display: false, dash: [1.5, 2.5] }
        }
      }
    },
    plugins: [framePlugin]
  });
}

const styleBepi = { line: '#1d2b9c', lineWidth: 1.6, above: '#ffff00', below: '#00bf00', thr: '#d62a1c', edge: 'rgba(105,105,95,0.8)' };
const styleEmini = { line: '#1d2b9c', lineWidth: 1.7, above: '#ffff00', below: '#00bf00', thr: '#d62a1c', edge: 'rgba(105,105,95,0.8)' };
const styleDisco = { line: '#1a1414', lineWidth: 1.1, above: '#00bf00', below: '#ffc0c0', thr: '#f07f7f' };
const intFmt = v => String(v);
const twoFmt = v => v.toFixed(2);

panel({
  box: [10, 5, 479, 284], plot: [40.7, 15, 464.3, 252],
  series: seriesA, threshold: thresholdAB, yTicks: scoreTicksAB, fmt: intFmt, style: styleBepi,
  frame: {
    titleSize: 10, scoreSize: 9, posDy: 22, scoreDx: -19.5,
    letter: 'A', letterSize: 20, letterDx: 4.3, letterDy: 24,
    mark: { info: markA, tx: 185.8, ty1: 4.58, ty2: 4.18, ex: 168.3, ey: 4.61, rx: 16.7, ry: 18.3 },
    legend: { r: 3.3, t: 3.3, w: 68.3, h: 15 }
  }
});
panel({
  box: [482, 5, 945, 284], plot: [512.7, 15.7, 940.7, 254],
  series: seriesB, threshold: thresholdAB, yTicks: scoreTicksAB, fmt: intFmt, style: styleBepi,
  frame: {
    titleSize: 10, scoreSize: 9, posDy: 22, scoreDx: -19.7,
    letter: 'B', letterSize: 21, letterDx: 5, letterDy: 27,
    mark: { info: markB, tx: 198.4, ty1: 2.36, ty2: 1.97, ex: 171.0, ey: 1.73, rx: 15, ry: 23.3 },
    legend: { r: 3, t: 3.6, w: 69.7, h: 15 }
  }
});
panel({
  box: [10, 289, 479, 569], plot: [45, 301.7, 466.7, 539.3],
  series: seriesC, threshold: thresholdCD, yTicks: scoreTicksCD, fmt: intFmt, style: styleBepi,
  frame: {
    titleSize: 10, scoreSize: 9, posDy: 21, scoreDx: -25.5,
    letter: 'C', letterSize: 21, letterDx: 3.3, letterDy: 26,
    mark: { info: markC, tx: 188.5, ty1: 7.03, ty2: 6.12, ex: 263.2, ey: 5.51, rx: 12.3, ry: 30 },
    legend: { r: 3.7, t: 4, w: 68, h: 14.3 }
  }
});
panel({
  box: [482, 289, 945, 569], plot: [519.3, 301, 940.7, 540],
  series: seriesD, threshold: thresholdCD, yTicks: scoreTicksCD, fmt: intFmt, style: styleBepi,
  frame: {
    titleSize: 10, scoreSize: 9, posDy: 21.2, scoreDx: -25.6,
    letter: 'D', letterSize: 21, letterDx: 5, letterDy: 25.7,
    mark: { info: markD, tx: 214.1, ty1: 5.95, ty2: 4.99, ex: 264.5, ey: 3.21, rx: 10.8, ry: 24.7 },
    legend: { r: 2.7, t: 4.7, w: 68, h: 13.3 }
  }
});
panel({
  box: [10, 575, 479, 857], plot: [52.3, 586, 466.7, 824.3],
  series: seriesE, threshold: thresholdEF, yTicks: scoreTicksEF, fmt: twoFmt, style: styleEmini, smooth: true,
  frame: {
    titleSize: 10, scoreSize: 9, posDy: 22.4, scoreDx: -32.8,
    letter: 'E', letterSize: 21, letterDx: 2.7, letterDy: 26.7,
    mark: { info: markE, tx: 174.3, ty1: 1.128, ty2: 1.108, ex: 158.5, ey: 1.09, rx: 16.2, ry: 25 },
    legend: { r: 3.7, t: 4, w: 68, h: 15 }
  }
});
panel({
  box: [482, 575, 945, 857], plot: [525.7, 586.7, 939, 820.7],
  series: seriesF, threshold: thresholdEF, yTicks: scoreTicksEF, fmt: twoFmt, style: styleEmini, smooth: true,
  frame: {
    titleSize: 10, scoreSize: 9, posDy: 21, scoreDx: -31.2,
    letter: 'F', letterSize: 21, letterDx: 7.6, letterDy: 29.3,
    mark: { info: markF, tx: 184.6, ty1: 1.066, ty2: 1.046, ex: 159.9, ey: 1.027, rx: 11.7, ry: 22.8 },
    legend: { r: 2.3, t: 3.3, w: 69, h: 14.3 }
  }
});
panel({
  box: [275, 863, 745, 1139], plot: [311, 903.3, 727.3, 1121.7],
  series: seriesG, threshold: thresholdG, yTicks: scoreTicksG, fmt: intFmt, style: styleDisco,
  frame: {
    titleSize: 10, scoreSize: 8, posDy: 18.5, scoreDx: -27.5,
    letter: 'G', letterSize: 17, letterDx: 4, letterDy: 18.7,
    disco: true
  }
});
</script>
</body>
</html>
